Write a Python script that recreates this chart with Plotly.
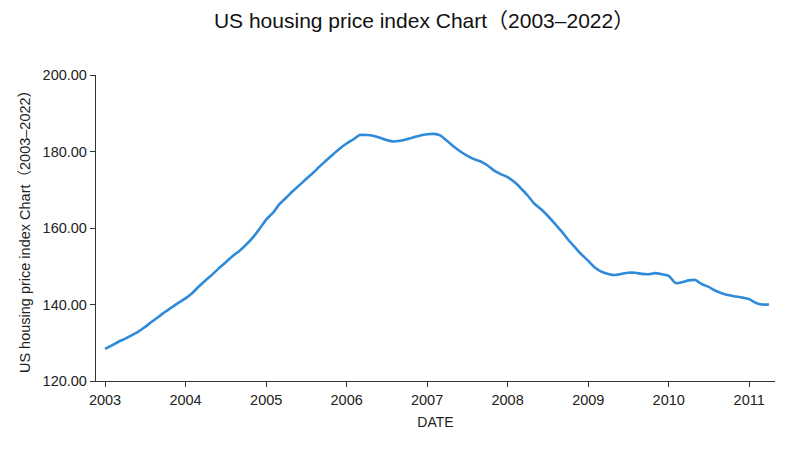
import plotly.graph_objects as go
import pandas as pd

title_text = "US housing price index Chart（2003–2022）"
x_title = "DATE"
y_title = "US housing price index Chart（2003–2022）"

start_month = "2003-01-01"
values_2003 = [128.4, 129.3, 130.2, 131.0, 131.9, 132.9, 134.1, 135.5, 136.8, 138.1, 139.3, 140.5]
values_2004 = [141.6, 143.0, 144.7, 146.3, 147.8, 149.5, 151.0, 152.6, 154.0, 155.6, 157.5, 159.7]
values_2005 = [162.2, 164.0, 166.2, 167.9, 169.6, 171.2, 172.8, 174.4, 176.1, 177.7, 179.3, 180.8]
values_2006 = [182.1, 183.2, 184.3, 184.3, 184.1, 183.6, 183.0, 182.6, 182.8, 183.2, 183.7, 184.2]
values_2007 = [184.5, 184.6, 184.2, 182.8, 181.3, 180.0, 178.9, 178.0, 177.4, 176.4, 175.0, 174.1]
values_2008 = [173.3, 172.0, 170.4, 168.5, 166.4, 164.9, 163.2, 161.2, 159.2, 157.0, 155.0, 153.1]
values_2009 = [151.4, 149.6, 148.6, 148.0, 147.7, 148.0, 148.3, 148.3, 148.0, 147.9, 148.2, 147.9]
values_2010 = [147.5, 145.6, 145.8, 146.3, 146.4, 145.3, 144.6, 143.6, 142.9, 142.4, 142.1, 141.8]
values_2011 = [141.4, 140.4, 140.0, 140.0]

values = (values_2003 + values_2004 + values_2005 + values_2006 + values_2007
          + values_2008 + values_2009 + values_2010 + values_2011)
dates = pd.date_range(start_month, periods=len(values), freq="MS")

x_tick_vals = ["2003-01-01", "2004-01-01", "2005-01-01", "2006-01-01", "2007-01-01",
               "2008-01-01", "2009-01-01", "2010-01-01", "2011-01-01"]
x_tick_text = ["2003", "2004", "2005", "2006", "2007", "2008", "2009", "2010", "2011"]
y_range = [120, 200]

font_family = "Liberation Sans, Arial, Noto Sans CJK SC, sans-serif"

fig = go.Figure()
fig.add_trace(go.Scatter(
    x=dates, y=values, mode="lines",
    line=dict(color="#2f8bd9", width=2.6, shape="spline", smoothing=0.6),
    showlegend=False,
))

fig.update_layout(
    width=788, height=450,
    paper_bgcolor="white", plot_bgcolor="white",
    margin=dict(l=88, r=21, t=67, b=77, autoexpand=False),
    title=dict(text=title_text, x=0.528, xanchor="center", y=0.973, yanchor="middle",
               font=dict(family=font_family, size=21, color="#111111")),
    font=dict(family=font_family, color="#222222"),
)

fig.update_xaxes(
    type="date", automargin=False,
    range=["2002-11-21", "2011-04-28"],
    tickvals=x_tick_vals, ticktext=x_tick_text,
    showgrid=False, zeroline=False,
    showline=True, linecolor="#333333", linewidth=1.3,
    ticks="outside", ticklen=5, tickcolor="#333333", tickwidth=1.3,
    tickfont=dict(size=14.5, family=font_family, color="#222222"),
    title=dict(text=x_title, font=dict(size=14, family=font_family, color="#222222"), standoff=10),
)
fig.update_yaxes(
    automargin=False,
    range=y_range, dtick=20, tick0=120, tickformat=".2f",
    showgrid=False, zeroline=False,
    showline=True, linecolor="#333333", linewidth=1.3,
    ticks="outside", ticklen=5, tickcolor="#333333", tickwidth=1.3,
    tickfont=dict(size=14.5, family=font_family, color="#222222"),
    title=dict(text=y_title, font=dict(size=14.5, family=font_family, color="#222222"), standoff=8),
)

fig.write_html("out.html")
